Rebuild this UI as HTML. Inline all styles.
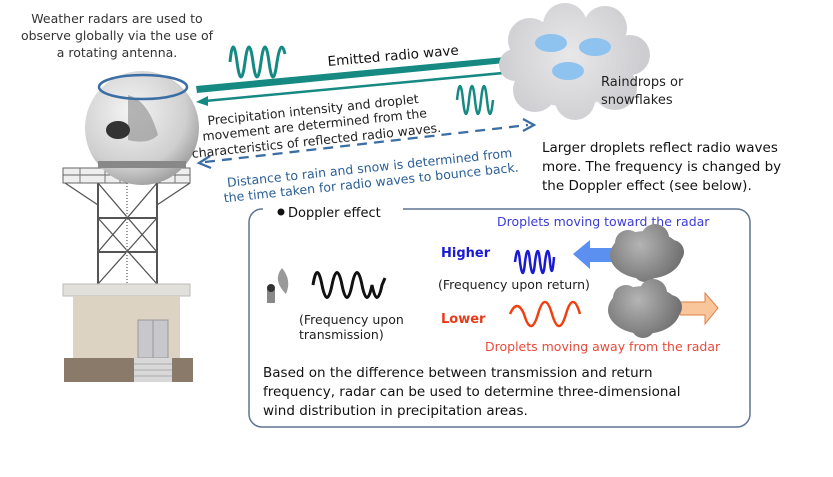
<!DOCTYPE html>
<html><head><meta charset="utf-8"><style>
html,body{margin:0;padding:0;background:#fff}
svg{display:block}
text{font-family:"DejaVu Sans","Liberation Sans",sans-serif}
</style></head><body>
<svg width="833" height="477" viewBox="0 0 833 477" xmlns="http://www.w3.org/2000/svg">
<defs>
<radialGradient id="dome" cx="0.4" cy="0.35" r="0.7"><stop offset="0" stop-color="#f4f4f4"/><stop offset="0.7" stop-color="#cfcfcf"/><stop offset="1" stop-color="#9a9a9a"/></radialGradient>
<radialGradient id="cl" gradientUnits="userSpaceOnUse" cx="570" cy="55" r="75"><stop offset="0" stop-color="#e8e8ea"/><stop offset="1" stop-color="#cdcdd1"/></radialGradient>
<radialGradient id="cl2a" gradientUnits="userSpaceOnUse" cx="640" cy="245" r="45"><stop offset="0" stop-color="#b4b4b4"/><stop offset="1" stop-color="#6e6e6e"/></radialGradient>
<radialGradient id="cl2b" gradientUnits="userSpaceOnUse" cx="638" cy="300" r="45"><stop offset="0" stop-color="#b4b4b4"/><stop offset="1" stop-color="#6e6e6e"/></radialGradient>
</defs>
<text font-size="12.5" fill="#333" text-anchor="middle"><tspan x="117" y="23">Weather radars are used to</tspan><tspan x="117" y="40">observe globally via the use of</tspan><tspan x="117" y="57">a rotating antenna.</tspan></text>
<g stroke="#555" stroke-width="2" fill="none">
<line x1="98" y1="183" x2="98" y2="284"/><line x1="157" y1="183" x2="157" y2="284"/>
<line x1="98" y1="218" x2="157" y2="218"/><line x1="98" y1="252" x2="157" y2="252"/>
<path d="M98 183 L157 252 M157 183 L98 252 M98 218 L157 284 M157 218 L98 284" stroke-width="1.3"/>
<path d="M65 183 L98 205 M190 183 L157 205" stroke-width="1.3"/>
<line x1="127" y1="183" x2="127" y2="284" stroke="#999" stroke-dasharray="1 2"/>
</g>
<rect x="63" y="168" width="127" height="15" fill="#eee" stroke="#666"/>
<line x1="63" y1="175" x2="190" y2="175" stroke="#666"/>
<path d="M80 168v15M105 168v15M120 168v15M137 168v15M160 168v15M175 168v15" stroke="#777"/>
<rect x="63" y="284" width="127" height="12" fill="#e2e0da" stroke="#bbb"/>
<rect x="73" y="296" width="107" height="62" fill="#ddd3c3"/>
<rect x="138" y="320" width="30" height="38" fill="#c8c8cc" stroke="#999"/>
<line x1="153" y1="320" x2="153" y2="358" stroke="#999"/>
<rect x="64" y="358" width="129" height="24" fill="#8a7a6a"/>
<rect x="134" y="358" width="38" height="24" fill="#d8d8d8"/>
<path d="M134 364h38M134 370h38M134 376h38" stroke="#aaa"/>
<circle cx="142" cy="128" r="57" fill="url(#dome)"/>
<rect x="98" y="161" width="88" height="7" fill="#888"/>
<path d="M128 95 q20 5 30 40 q-10 10 -30 5 z" fill="#999" opacity="0.7"/>
<ellipse cx="118" cy="130" rx="12" ry="9" fill="#333"/>
<ellipse cx="143" cy="87" rx="44" ry="12" fill="none" stroke="#3b6ea5" stroke-width="2.5"/>
<polygon points="196,86 515,56 513,48 540,58 516,70 515,62 197,93" fill="#168a82"/>
<line x1="535" y1="70" x2="205" y2="101" stroke="#168a82" stroke-width="2.5"/>
<polygon points="196,102 208,96 208,106" fill="#168a82"/>
<line x1="205" y1="162" x2="528" y2="125" stroke="#3b6ea5" stroke-width="2.3" stroke-dasharray="10 7"/>
<path d="M210 156 L199 163 L211 168 M523 119 L534 125 L523 131" stroke="#3b6ea5" stroke-width="2.3" fill="none"/>
<path d="M230 62 q3 -30 7 0 q4 30 8 0 q4 -30 8 0 q4 30 8 0 q4 -30 8 0 q4 30 8 0 q4 -25 8 -8" stroke="#168a82" stroke-width="3" fill="none"/>
<path d="M457 100 q3 -28 6 0 q3 28 6 0 q3 -28 6 0 q3 28 6 0 q3 -28 6 0 q3 28 6 0" stroke="#168a82" stroke-width="2.5" fill="none"/>
<g fill="url(#cl)">
<ellipse cx="570" cy="62" rx="58" ry="45"/>
<circle cx="530" cy="40" r="22"/><circle cx="565" cy="25" r="22"/><circle cx="605" cy="28" r="22"/><circle cx="630" cy="55" r="20"/><circle cx="615" cy="88" r="22"/><circle cx="575" cy="100" r="20"/><circle cx="535" cy="90" r="22"/><circle cx="515" cy="65" r="16"/>
</g>
<ellipse cx="551" cy="43" rx="16" ry="9" fill="#8ec3ef"/>
<ellipse cx="595" cy="47" rx="16" ry="9" fill="#8ec3ef"/>
<ellipse cx="568" cy="71" rx="16" ry="9" fill="#8ec3ef"/>
<text font-size="13" fill="#222"><tspan x="601" y="86">Raindrops or</tspan><tspan x="601" y="104">snowflakes</tspan></text>
<text x="328" y="66" font-size="13.5" fill="#111" transform="rotate(-5 328 66)">Emitted radio wave</text>
<text font-size="12.5" fill="#222" text-anchor="middle" transform="rotate(-6 315 128)"><tspan x="315" y="114">Precipitation intensity and droplet</tspan><tspan x="315" y="129">movement are determined from the</tspan><tspan x="315" y="145">characteristics of reflected radio waves.</tspan></text>
<text font-size="12.5" fill="#2c5f95" text-anchor="middle" transform="rotate(-6 370 172)"><tspan x="370" y="172">Distance to rain and snow is determined from</tspan><tspan x="370" y="187">the time taken for radio waves to bounce back.</tspan></text>
<text font-size="13.5" fill="#111"><tspan x="542" y="152">Larger droplets reflect radio waves</tspan><tspan x="542" y="171">more. The frequency is changed by</tspan><tspan x="542" y="190">the Doppler effect (see below).</tspan></text>
<rect x="249" y="209" width="501" height="218" rx="13" fill="none" stroke="#5e7592" stroke-width="1.5"/>
<rect x="263" y="200" width="140" height="18" fill="#fff"/>
<circle cx="281" cy="212" r="3.5" fill="#111"/>
<text x="288" y="217" font-size="13" fill="#111">Doppler effect</text>
<text x="497" y="226" font-size="12.5" fill="#3b3bd8">Droplets moving toward the radar</text>
<text x="441" y="257" font-size="13" font-weight="bold" fill="#1a1ad0">Higher</text>
<text x="438" y="289" font-size="12.5" fill="#222">(Frequency upon return)</text>
<text x="441" y="323" font-size="13" font-weight="bold" fill="#e63a1a">Lower</text>
<text x="485" y="351" font-size="12.5" fill="#e84a3a">Droplets moving away from the radar</text>
<text font-size="12.5" fill="#222"><tspan x="299" y="324">(Frequency upon</tspan><tspan x="299" y="339">transmission)</tspan></text>
<text font-size="13.5" fill="#111"><tspan x="263" y="377">Based on the difference between transmission and return</tspan><tspan x="263" y="396">frequency, radar can be used to determine three-dimensional</tspan><tspan x="263" y="415">wind distribution in precipitation areas.</tspan></text>
<path d="M282 268 q-10 12 4 26 q6 -14 -4 -26z" fill="#999"/>
<rect x="267" y="289" width="8" height="14" fill="#888"/><circle cx="271" cy="288" r="4" fill="#333"/>
<path d="M313 285 q4 -25 9 0 q5 25 10 0 q5 -25 10 0 q5 25 10 0 q5 -25 10 0 q5 25 10 0 q5 25 10 0 l3 -7" stroke="#111" stroke-width="3" fill="none"/>
<path d="M515 262 q3 -22 5 0 q3 22 5 0 q3 -22 5 0 q3 22 5 0 q3 -22 5 0 q3 22 5 0 q3 -22 5 0 q2 20 4 -5" stroke="#1a1ad0" stroke-width="2.5" fill="none"/>
<path d="M510 314 q7 -16 14 0 q7 24 14 0 q7 -24 14 0 q7 24 14 0 q7 -24 14 0" stroke="#f04010" stroke-width="2.5" fill="none"/>
<polygon points="573,254 590,240 590,248 617,248 617,262 590,262 590,269" fill="#5b8ff0"/>
<polygon points="680,302 705,302 705,293 718,308 705,324 705,315 680,315" fill="#f9c59b" stroke="#e0814a"/>
<g fill="url(#cl2a)">
<ellipse cx="646" cy="255" rx="36" ry="24"/><circle cx="628" cy="243" r="13"/><circle cx="655" cy="238" r="14"/><circle cx="672" cy="252" r="12"/><circle cx="645" cy="270" r="12"/>
</g>
<g fill="url(#cl2b)">
<ellipse cx="644" cy="310" rx="36" ry="24"/><circle cx="626" cy="298" r="13"/><circle cx="653" cy="293" r="14"/><circle cx="670" cy="307" r="12"/><circle cx="643" cy="326" r="12"/>
</g>
</svg>
</body></html>
